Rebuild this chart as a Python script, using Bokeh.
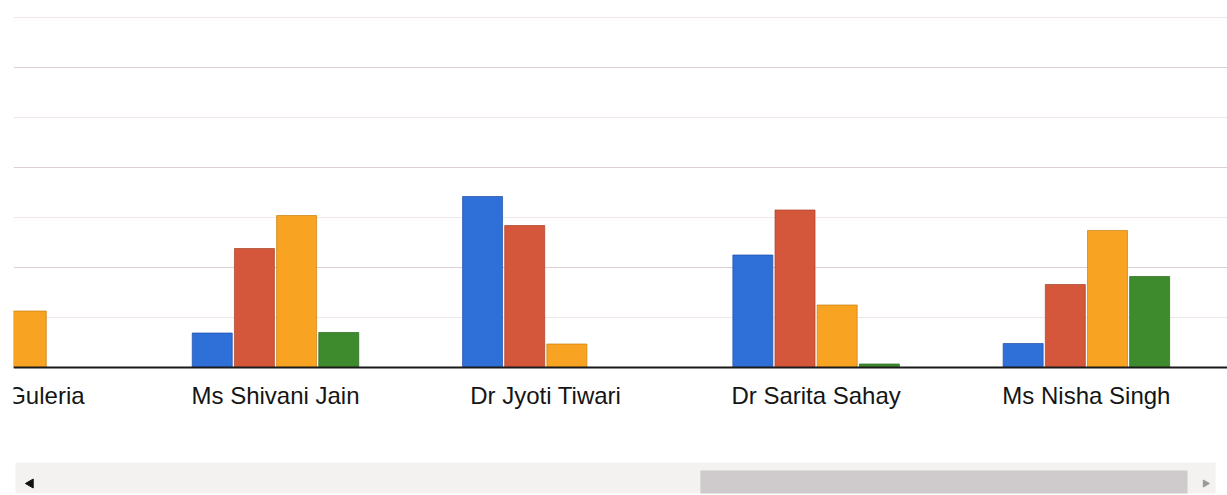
import numpy as np
from bokeh.plotting import figure
from bokeh.models import ColumnDataSource, Range1d, Grid, FixedTicker, Span
from bokeh.core.properties import value
from bokeh.embed import file_html
from bokeh.resources import INLINE

# ---- data (NaN = bar outside the visible window) ----
categories = ["Dr Ritu Guleria", "Ms Shivani Jain", "Dr Jyoti Tiwari",
              "Dr Sarita Sahay", "Ms Nisha Singh"]
series_blue = [np.nan, 6.9, 34.2, 22.5, 4.8]
series_red = [np.nan, 23.8, 28.4, 31.5, 16.6]
series_orange = [11.3, 30.4, 4.7, 12.5, 27.4]
series_green = [0.0, 7.0, 0.0, 0.7, 18.2]
major_grid = [20, 40, 60]
minor_grid = [10, 30, 50, 70]

# ---- styling / layout ----
colors = ["#2f6fd8", "#d5573b", "#f8a322", "#3e8b2e"]
edges = ["#1f4fa8", "#a83e26", "#c98010", "#2a6a1c"]
pitch = 0.156
bar_w = 0.148

xs = np.arange(len(categories), dtype=float)

p = figure(width=1214, height=487,
           x_range=Range1d(0.0307, 4.522), y_range=Range1d(-25.6, 71.8),
           x_axis_type=None, y_axis_type=None,
           toolbar_location=None, output_backend="svg",
           min_border=0, outline_line_color=None,
           background_fill_color="white", border_fill_color="white",
           margin=(8, 0, 0, 13))

grid = Grid(dimension=1, ticker=FixedTicker(ticks=major_grid, minor_ticks=minor_grid),
            grid_line_color="#dcd0d2", grid_line_width=1,
            minor_grid_line_color="#eee6e8", minor_grid_line_width=1)
p.add_layout(grid)

series = [series_blue, series_red, series_orange, series_green]
for i, (vals, c, e) in enumerate(zip(series, colors, edges)):
    src = ColumnDataSource(dict(x=xs + (i - 1.5) * pitch, top=np.array(vals, dtype=float)))
    p.vbar(x="x", top="top", bottom=0, width=bar_w, source=src,
           fill_color=c, line_color=e, line_width=1, line_alpha=0.7)

p.add_layout(Span(location=0, dimension="width", line_color="#1a1a1a", line_width=2))

# category labels (clipped by the frame, like the scrolled view)
p.text(x=xs, y=[-5.6] * len(categories), text=categories,
       text_align="center", text_baseline="middle",
       text_font=value("Liberation Sans"), text_font_size="24px",
       text_color="#151515")

# horizontal scrollbar chrome
p.quad(left=[0.038], right=[4.478], bottom=[-25.2], top=[-19],
       fill_color="#f4f1f1", line_color=None)
p.quad(left=[2.572], right=[4.374], bottom=[-25.2], top=[-20.6],
       fill_color="#cfcacb", line_color=None)
p.scatter(x=[0.094], y=[-23.2], marker="triangle", angle=np.pi / 2,
          size=9, color="#111111")
p.scatter(x=[4.44], y=[-23.2], marker="triangle", angle=-np.pi / 2,
          size=7, color="#9a9a9a")

open("out.html", "w").write(file_html(p, INLINE))
